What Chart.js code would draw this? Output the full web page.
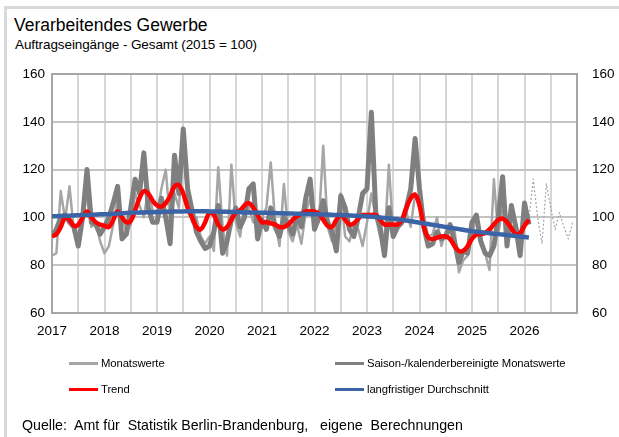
<!DOCTYPE html>
<html>
<head>
<meta charset="utf-8">
<script src="https://cdn.jsdelivr.net/npm/chart.js@4.4.1/dist/chart.umd.min.js"></script>
<style>
  body { margin: 0; background: #fff; }
  #wrap { position: relative; width: 619px; height: 437px; overflow: hidden; background: #fff;
          font-family: "Liberation Sans", Arial, sans-serif; color: #000; }
  #frame { position: absolute; left: 4px; top: 6px; width: 700px; height: 500px;
           border-left: 3px solid #d9d9d9; border-top: 3px solid #d9d9d9; }
  #chartz { position: absolute; left: 0; top: 0; }
  .title { position: absolute; left: 14px; top: 15px; font-size: 17.5px; line-height: 20px; white-space: pre; }
  .sub { position: absolute; left: 15px; top: 37px; font-size: 13.5px; line-height: 15px; letter-spacing: -0.1px; white-space: pre; }
  .leg { position: absolute; font-size: 11.3px; line-height: 13px; letter-spacing: -0.1px; white-space: pre; }
  .leg i { position: absolute; left: -32px; top: 5px; width: 29px; height: 3px; }
  .source { position: absolute; left: 22px; top: 417px; font-size: 14.2px; line-height: 16px; white-space: pre; }
</style>
</head>
<body>
<div id="wrap">
  <div id="frame"></div>
  <div class="title">Verarbeitendes Gewerbe</div>
  <div class="sub">Auftragseingänge - Gesamt (2015 = 100)</div>
  <canvas id="chartz" width="619" height="437"></canvas>
  <div id="legend"></div>
  <div class="source">Quelle:  Amt für  Statistik Berlin-Brandenburg,   eigene  Berechnungen</div>
</div>
<script>
'use strict'

// tick labels (one per January, starting 2017)
const years = ['2017', '2018', '2019', '2020', '2021', '2022', '2023', '2024', '2025', '2026'];
const yTicks = [60, 80, 100, 120, 140, 160];

// Monatswerte, Jan 2017 .. Feb 2026
const monthly = [
  84, 85, 111, 99, 113, 94, 89, 104, 108, 96, 98, 90,
  85, 88, 97, 108, 100, 94, 97, 110, 105, 100, 112, 103,
  101, 112, 120, 98, 110, 104, 131, 106, 98, 100, 92, 89,
  92, 86, 121, 96, 84, 122, 98, 92, 106, 104, 98, 97,
  100, 104, 123, 98, 88, 114, 94, 90, 97, 89, 102, 108,
  102, 98, 130, 96, 90, 97, 110, 92, 90, 97, 95, 88,
  98, 110, 100, 92, 90, 122, 93, 100, 97, 102, 96, 110,
  104, 100, 92, 93, 100, 88, 94, 90, 95, 77, 82, 84,
  92, 101, 92, 85, 78, 116, 93, 104, 98, 95, 98, 90,
  96, 99
];

// Saison-/kalenderbereinigte Monatswerte
const adjusted = [
  92, 95, 100, 101, 98, 96, 88, 100, 120, 98, 97, 93,
  96, 100, 106, 113, 91, 93, 104, 116, 110, 127, 104, 98,
  98, 108, 100, 89, 126, 110, 137, 112, 103, 94, 90, 87,
  88, 94, 105, 85, 90, 99, 104, 96, 100, 112, 114, 91,
  99, 95, 104, 96, 92, 100, 97, 93, 101, 96, 108, 116,
  95, 100, 107, 98, 94, 86, 109, 104, 95, 92, 100, 110,
  112, 144, 102, 96, 84, 104, 92, 96, 98, 104, 112, 133,
  112, 96, 88, 89, 94, 91, 92, 97, 90, 81, 86, 85,
  98, 101, 90, 85, 84, 88, 100, 117, 88, 105, 96, 84,
  106, 97
];

// Trend
const trend = [
  92, 93, 96, 100, 99, 96.5, 97, 100, 102.5, 100, 98, 97,
  96.5, 96, 99, 102.5, 100, 98, 98.5, 103, 108, 111, 110, 107,
  105, 104.5, 106, 109, 113, 113.5, 110, 104, 100, 96, 95, 98,
  102, 101, 97, 95, 96, 99, 102, 103, 105, 106, 104, 101,
  98, 98, 97.5, 97, 96, 96, 97, 99, 100.5, 101.5, 102.5, 102.5,
  102.5, 101.5, 99, 96.5, 96, 99, 101, 99, 97, 97.5, 99.5, 101,
  101, 101, 101, 99, 97, 97, 97, 97, 99, 104, 108, 109.5,
  105, 96, 91.5, 91, 91.5, 92, 92, 91, 88, 86, 86, 88,
  91, 92.8, 93, 93.5, 95, 97, 99, 99.5, 98, 95.5, 93, 93.5,
  96.5, 99
];

// langfristiger Durchschnitt
const average = [
  100.5, 100.5, 100.6, 100.7, 100.7, 100.8, 100.9, 101, 101, 101.1, 101.2, 101.3,
  101.3, 101.4, 101.5, 101.6, 101.7, 101.8, 101.9, 102, 102, 102.1, 102.2, 102.2,
  102.3, 102.3, 102.4, 102.4, 102.5, 102.5, 102.5, 102.6, 102.6, 102.6, 102.6, 102.6,
  102.5, 102.5, 102.5, 102.4, 102.4, 102.3, 102.3, 102.2, 102.1, 102.1, 102, 102,
  101.9, 101.9, 101.8, 101.8, 101.7, 101.7, 101.6, 101.6, 101.5, 101.5, 101.4, 101.4,
  101.3, 101.3, 101.2, 101.2, 101.1, 101, 101, 100.9, 100.8, 100.7, 100.6, 100.5,
  100.4, 100.3, 100.2, 100, 99.8, 99.6, 99.4, 99.2, 99, 98.7, 98.4, 98.1,
  97.8, 97.5, 97.2, 96.9, 96.6, 96.3, 96, 95.7, 95.4, 95.1, 94.8, 94.5,
  94.2, 94, 93.8, 93.6, 93.4, 93.2, 93, 92.8, 92.6, 92.4, 92.2, 92, 91.8, 91.6
];

// dotted continuation, Mar 2026 .. Dec 2026
const outlook = [116, 100, 89, 114, 104, 95, 102, 96, 91, 98];

const names = ['Monatswerte', 'Saison-/kalenderbereinigte Monatswerte', 'Trend', 'langfristiger Durchschnitt'];
const colors = ['#a6a6a6', '#7f7f7f', '#ff0000', '#3b64a6'];

function toPoints(arr, start) {
  return arr.map((v, i) => ({ x: start + i, y: v }));
}

const lastIdx = monthly.length - 1;
const outlookPts = [{ x: lastIdx, y: monthly[lastIdx] }].concat(toPoints(outlook, lastIdx + 1));

const data = {
  datasets: [
    { label: names[3], data: toPoints(average, 0), borderColor: colors[3], borderWidth: 4.5, tension: 0.4, order: 1 },
    { label: names[2], data: toPoints(trend, 0), borderColor: colors[2], borderWidth: 4.5, tension: 0.4, order: 2 },
    { label: names[1], data: toPoints(adjusted, 0), borderColor: colors[1], borderWidth: 5, tension: 0, order: 3 },
    { label: names[0], data: toPoints(monthly, 0), borderColor: colors[0], borderWidth: 2.5, tension: 0, order: 4 },
    { label: 'dotted', data: outlookPts, borderColor: '#a6a6a6', borderWidth: 1.2, borderDash: [2, 2], tension: 0, order: 5 }
  ]
};

const tickFont = { family: '"Liberation Sans", Arial, sans-serif', size: 13.5 };

const yScale = (pos, width, pad) => ({
  type: 'linear', position: pos, min: 60, max: 160,
  afterFit(s) { s.width = width; },
  afterBuildTicks(s) { s.ticks = yTicks.map(v => ({ value: v })); },
  ticks: { font: tickFont, color: '#000', padding: pad },
  border: { display: true, color: '#a6a6a6', width: 2 },
  grid: {
    display: pos === 'left', drawTicks: false, lineWidth: 2,
    color: c => (c.tick && c.tick.value === 160) ? '#a6a6a6' : '#c4c4c4'
  }
});

const config = {
  type: 'line',
  data: data,
  options: {
    responsive: false,
    animation: false,
    events: [],
    layout: { padding: { left: 0, right: 0, top: 74, bottom: 94 } },
    elements: { point: { radius: 0 }, line: { borderJoinStyle: 'round', borderCapStyle: 'butt' } },
    plugins: { legend: { display: false }, title: { display: false }, tooltip: { enabled: false } },
    scales: {
      x: {
        type: 'linear', min: 0, max: 120,
        afterFit(s) { s.height = 30; },
        ticks: {
          stepSize: 6, autoSkip: false, maxRotation: 0, font: tickFont, color: '#000', padding: 10,
          callback: v => (v % 12 === 0 && years[v / 12]) ? years[v / 12] : ''
        },
        border: { display: true, color: '#a6a6a6', width: 2 },
        grid: { drawTicks: false, lineWidth: 2, color: '#d6d6d6' }
      },
      y: yScale('left', 52, 7),
      y2: yScale('right', 42, 15)
    }
  }
};

const myChart = new Chart(document.getElementById('chartz'), config);

// legend in two columns, like the original
const legendPos = [[101, 357], [367, 357], [101, 383], [367, 383]];
const legendBox = document.getElementById('legend');
names.forEach((n, i) => {
  const d = document.createElement('div');
  d.className = 'leg';
  d.style.left = legendPos[i][0] + 'px';
  d.style.top = legendPos[i][1] + 'px';
  d.textContent = n;
  const sw = document.createElement('i');
  sw.style.background = colors[i];
  d.appendChild(sw);
  legendBox.appendChild(d);
});
</script>
</body>
</html>
